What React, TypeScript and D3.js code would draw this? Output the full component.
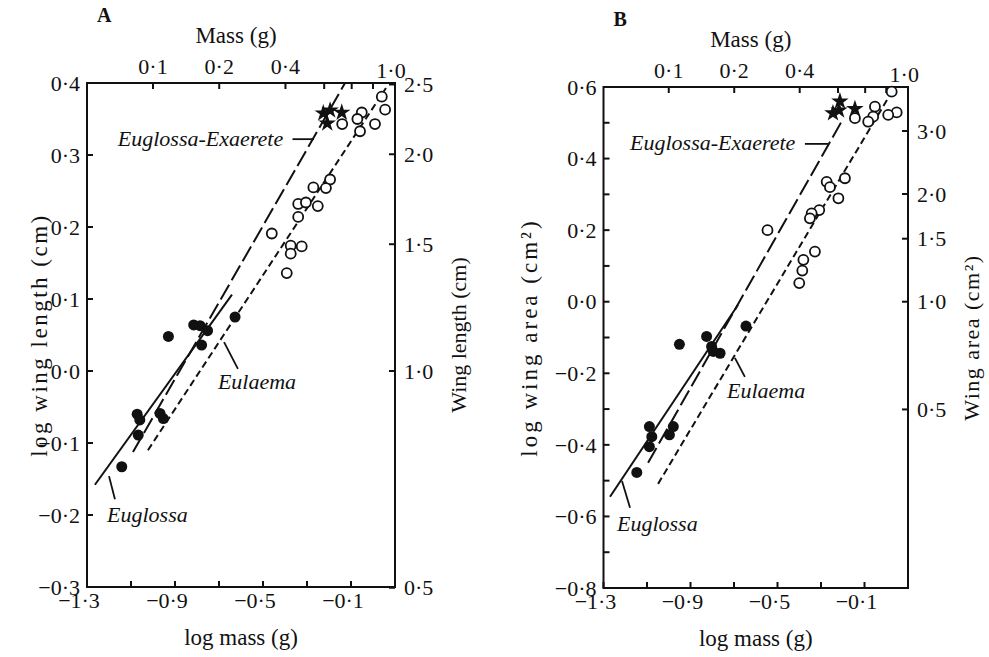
import React from 'react';
import * as d3 from 'd3';

const FONT = '"Liberation Serif", "Times New Roman", serif';

// ---------- shared axis values ----------
const logMassTicks = [-1.3, -1.1, -0.9, -0.7, -0.5, -0.3, -0.1, 0.1];
const logMassLabels = [-1.3, -0.9, -0.5, -0.1];
const massTicks = [0.1, 0.2, 0.4, 0.6, 0.8, 1.0];
const massLabels = [0.1, 0.2, 0.4, 1.0];

// ---------- Panel A: wing length ----------
const aYTicks = [0.4, 0.3, 0.2, 0.1, 0.0, -0.1, -0.2, -0.3];
const aYLabels = [0.4, 0.3, 0.2, 0.1, 0.0, -0.1, -0.2, -0.3];
const aRightTicks = [2.5, 2.0, 1.5, 1.0, 0.5];
const aOpen: [number, number][] = [
  [0.040, 0.381], [0.055, 0.363], [-0.051, 0.359], [-0.071, 0.350], [-0.140, 0.343],
  [0.009, 0.343], [-0.059, 0.333], [-0.195, 0.266], [-0.271, 0.255], [-0.214, 0.254],
  [-0.340, 0.232], [-0.305, 0.234], [-0.251, 0.229], [-0.340, 0.214], [-0.460, 0.191],
  [-0.374, 0.174], [-0.324, 0.173], [-0.374, 0.163], [-0.392, 0.136],
];
const aFilled: [number, number][] = [
  [-0.930, 0.048], [-0.815, 0.064], [-0.786, 0.063], [-0.752, 0.056], [-0.779, 0.036],
  [-0.627, 0.075], [-1.072, -0.060], [-1.060, -0.068], [-0.968, -0.059], [-0.953, -0.066],
  [-1.067, -0.089], [-1.142, -0.133],
];
const aStars: [number, number][] = [[-0.226, 0.358], [-0.195, 0.362], [-0.142, 0.359], [-0.208, 0.344]];
const aEuglossaLine: [number, number][] = [[-1.264, -0.158], [-0.641, 0.106]];
const aExaereteLine: [number, number][] = [[-1.091, -0.1125], [-0.127, 0.4]];
const aEulaemaLine: [number, number][] = [[-1.023, -0.110], [0.059, 0.393]];
const aNotes = [
  { text: 'Euglossa-Exaerete', x: -1.16, y: 0.3125, leader: [[-0.366, 0.322], [-0.268, 0.322]] },
  { text: 'Eulaema', x: -0.705, y: -0.025, leader: [[-0.614, 0.003], [-0.677, 0.040]] },
  { text: 'Euglossa', x: -1.209, y: -0.21, leader: [[-1.173, -0.178], [-1.2, -0.146]] },
];

// ---------- Panel B: wing area ----------
const bYTicks = [0.6, 0.5, 0.4, 0.3, 0.2, 0.1, 0.0, -0.1, -0.2, -0.3, -0.4, -0.5, -0.6, -0.7, -0.8];
const bYLabels = [0.6, 0.4, 0.2, 0.0, -0.2, -0.4, -0.6, -0.8];
const bRightTicks = [3.0, 2.0, 1.5, 1.0, 0.5];
const bOpen: [number, number][] = [
  [0.025, 0.587], [-0.052, 0.545], [0.048, 0.529], [0.009, 0.522], [-0.060, 0.517],
  [-0.083, 0.503], [-0.144, 0.513], [-0.190, 0.345], [-0.274, 0.335], [-0.259, 0.320],
  [-0.220, 0.289], [-0.308, 0.256], [-0.343, 0.247], [-0.351, 0.233], [-0.546, 0.200],
  [-0.328, 0.140], [-0.381, 0.117], [-0.386, 0.087], [-0.400, 0.052],
];
const bFilled: [number, number][] = [
  [-0.951, -0.119], [-0.826, -0.097], [-0.803, -0.125], [-0.764, -0.144], [-0.795, -0.139],
  [-0.645, -0.068], [-1.089, -0.349], [-1.078, -0.377], [-1.089, -0.405], [-0.979, -0.349],
  [-0.997, -0.372], [-1.147, -0.477],
];
const bStars: [number, number][] = [[-0.213, 0.560], [-0.217, 0.535], [-0.245, 0.527], [-0.144, 0.539]];
const bEuglossaLine: [number, number][] = [[-1.270, -0.545], [-0.682, -0.009]];
const bExaereteLine: [number, number][] = [[-1.095, -0.450], [-0.204, 0.505]];
const bEulaemaLine: [number, number][] = [[-1.049, -0.509], [0.031, 0.592]];
const bNotes = [
  { text: 'Euglossa-Exaerete', x: -1.178, y: 0.424, leader: [[-0.374, 0.441], [-0.268, 0.441]] },
  { text: 'Eulaema', x: -0.732, y: -0.269, leader: [[-0.650, -0.210], [-0.696, -0.157]] },
  { text: 'Euglossa', x: -1.238, y: -0.640, leader: [[-1.178, -0.576], [-1.215, -0.501]] },
];

const fmt = (v: number) => d3.format('.1f')(v).replace('-', '\u2212').replace('.', '\u00b7');

type PanelProps = {
  letter: string;
  box: { left: number; right: number; top: number; bottom: number };
  yDomain: [number, number];
  yTicks: number[];
  yLabels: number[];
  rightTicks: number[];
  open: [number, number][];
  filled: [number, number][];
  stars: [number, number][];
  lines: { pts: [number, number][]; dash: string | undefined }[];
  notes: { text: string; x: number; y: number; leader: number[][] }[];
  leftTitle: string;
  rightTitle: string;
  leftTitleX: number;
  rightTitleX: number;
  leftSpacing: number;
  rightSpacing: number;
};

function Panel(p: PanelProps) {
  const { box } = p;
  const x = d3.scaleLinear().domain([-1.3, 0.1]).range([box.left, box.right]);
  const y = d3.scaleLinear().domain(p.yDomain).range([box.bottom, box.top]);
  const line = d3.line<number[]>().x((d) => x(d[0])).y((d) => y(d[1]));
  const star = d3.symbol().type(d3.symbolStar).size(95)();
  const tl = 6;
  const midY = (box.top + box.bottom) / 2;
  const midX = (box.left + box.right) / 2;
  return (
    <g fontFamily={FONT} fill="#111">
      {/* frame */}
      <rect x={box.left} y={box.top} width={box.right - box.left} height={box.bottom - box.top}
        fill="none" stroke="#111" strokeWidth={2} />
      {/* bottom ticks */}
      {logMassTicks.map((t) => (
        <line key={'b' + t} x1={x(t)} x2={x(t)} y1={box.bottom} y2={box.bottom - tl} stroke="#111" strokeWidth={2} />
      ))}
      {logMassLabels.map((t) => (
        <text key={'bl' + t} x={x(t) - 8} y={box.bottom + 21} fontSize={22} textAnchor="middle">{fmt(t)}</text>
      ))}
      <text x={midX} y={box.bottom + 58} fontSize={23} textAnchor="middle">log mass (g)</text>
      {/* top ticks: mass (g) */}
      {massTicks.map((t) => (
        <line key={'t' + t} x1={x(Math.log10(t))} x2={x(Math.log10(t))} y1={box.top} y2={box.top + tl} stroke="#111" strokeWidth={2} />
      ))}
      {massLabels.map((t) => (
        <text key={'tl' + t} x={x(Math.log10(t)) + (t === 1 ? 18 : 0)} y={box.top - 9 + (t === 1 ? 4 : 0)} fontSize={22} textAnchor="middle">{fmt(t)}</text>
      ))}
      <text x={midX - 5} y={box.top - 40} fontSize={23} textAnchor="middle">Mass (g)</text>
      <text x={box.left + 10} y={box.top - 61} fontSize={20} fontWeight="bold">{p.letter}</text>
      {/* left ticks */}
      {p.yTicks.map((t) => (
        <line key={'l' + t} x1={box.left} x2={box.left + tl} y1={y(t)} y2={y(t)} stroke="#111" strokeWidth={2} />
      ))}
      {p.yLabels.map((t) => (
        <text key={'ll' + t} x={box.left - 7} y={y(t)} dy="0.35em" fontSize={22} textAnchor="end">{fmt(t)}</text>
      ))}
      <text transform={`translate(${p.leftTitleX},${midY}) rotate(-90)`} fontSize={23}
        letterSpacing={p.leftSpacing} textAnchor="middle">{p.leftTitle}</text>
      {/* right ticks: log scale */}
      {p.rightTicks.map((t) => (
        <line key={'r' + t} x1={box.right} x2={box.right - tl} y1={y(Math.log10(t))} y2={y(Math.log10(t))} stroke="#111" strokeWidth={2} />
      ))}
      {p.rightTicks.map((t) => (
        <text key={'rl' + t} x={box.right + 9} y={y(Math.log10(t))} dy="0.35em" fontSize={22} textAnchor="start">{fmt(t)}</text>
      ))}
      <text transform={`translate(${p.rightTitleX},${midY}) rotate(-90)`} fontSize={22}
        letterSpacing={p.rightSpacing} textAnchor="middle">{p.rightTitle}</text>
      {/* regression lines */}
      {p.lines.map((l, i) => (
        <path key={'ln' + i} d={line(l.pts) || ''} fill="none" stroke="#111" strokeWidth={2} strokeDasharray={l.dash} />
      ))}
      {/* points */}
      {p.open.map((d, i) => (
        <circle key={'o' + i} cx={x(d[0])} cy={y(d[1])} r={5} fill="#fff" stroke="#111" strokeWidth={1.8} />
      ))}
      {p.filled.map((d, i) => (
        <circle key={'f' + i} cx={x(d[0])} cy={y(d[1])} r={5.5} fill="#111" />
      ))}
      {p.stars.map((d, i) => (
        <path key={'s' + i} d={star || ''} transform={`translate(${x(d[0])},${y(d[1])})`} fill="#111" />
      ))}
      {/* annotations */}
      {p.notes.map((n, i) => (
        <g key={'n' + i}>
          <text x={x(n.x)} y={y(n.y)} fontSize={22} fontStyle="italic">{n.text}</text>
          <path d={line(n.leader) || ''} fill="none" stroke="#111" strokeWidth={1.8} />
        </g>
      ))}
    </g>
  );
}

export default function App() {
  return (
    <svg width={989} height={657} style={{ position: 'absolute', left: 0, top: 0, background: '#fff' }}>
      <rect width={989} height={657} fill="#fff" />
      <Panel
        letter="A"
        box={{ left: 87, right: 395, top: 83, bottom: 587 }}
        yDomain={[-0.3, 0.4]}
        yTicks={aYTicks}
        yLabels={aYLabels}
        rightTicks={aRightTicks}
        open={aOpen}
        filled={aFilled}
        stars={aStars}
        lines={[
          { pts: aEuglossaLine, dash: undefined },
          { pts: aExaereteLine, dash: '17 5' },
          { pts: aEulaemaLine, dash: '7 4' },
        ]}
        notes={aNotes}
        leftTitle="log wing length (cm)"
        rightTitle="Wing length (cm)"
        leftTitleX={47}
        rightTitleX={466}
        leftSpacing={2.5}
        rightSpacing={0}
      />
      <Panel
        letter="B"
        box={{ left: 603.5, right: 908, top: 87, bottom: 588 }}
        yDomain={[-0.8, 0.6]}
        yTicks={bYTicks}
        yLabels={bYLabels}
        rightTicks={bRightTicks}
        open={bOpen}
        filled={bFilled}
        stars={bStars}
        lines={[
          { pts: bEuglossaLine, dash: undefined },
          { pts: bExaereteLine, dash: '17 5' },
          { pts: bEulaemaLine, dash: '7 4' },
        ]}
        notes={bNotes}
        leftTitle="log wing area (cm²)"
        rightTitle="Wing area (cm²)"
        leftTitleX={537}
        rightTitleX={979}
        leftSpacing={3}
        rightSpacing={1.5}
      />
    </svg>
  );
}
